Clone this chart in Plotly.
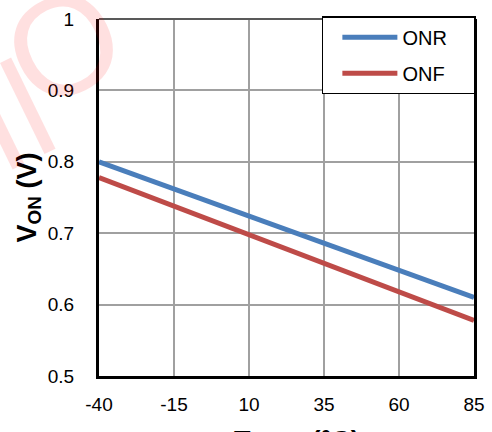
import plotly.graph_objects as go

temps = [-40, -15, 10, 35, 60, 85]
onr = [0.800, 0.762, 0.724, 0.686, 0.648, 0.610]
onf = [0.778, 0.738, 0.698, 0.658, 0.618, 0.578]
x_ticks = [-40, -15, 10, 35, 60, 85]
x_labels = ["-40", "-15", "10", "35", "60", "85"]
y_ticks = [0.5, 0.6, 0.7, 0.8, 0.9, 1.0]
y_labels = ["0.5", "0.6", "0.7", "0.8", "0.9", "1"]
x_title = "Temp (°C)"
y_title = "V<sub>ON</sub> (V)"
pad = "\u00a0" * 4

fig = go.Figure()
fig.add_trace(go.Scatter(x=temps, y=onr, mode="lines", name="ONR" + pad, legendgroup="a",
                         line=dict(color="#4A7EBB", width=5)))
fig.add_trace(go.Scatter(x=temps, y=onf, mode="lines", name="ONF" + pad, legendgroup="b",
                         line=dict(color="#BE4B48", width=5)))

font = "Liberation Sans, Arial, sans-serif"
wm = "rgba(255,0,0,0.12)"

fig.update_layout(
    width=492, height=432,
    margin=dict(l=99, r=18, t=19, b=56),
    paper_bgcolor="white", plot_bgcolor="white",
    font=dict(family=font, size=19, color="black"),
    showlegend=True,
    legend=dict(x=1.005, y=1.008, xanchor="right", yanchor="top",
                bgcolor="white", bordercolor="black", borderwidth=1.5,
                font=dict(size=20), tracegroupgap=7, itemwidth=55, indentation=14),
    xaxis=dict(range=[-40, 85], tickvals=x_ticks, ticktext=x_labels, showgrid=True,
               gridcolor="#A0A0A0", gridwidth=1.5, zeroline=False,
               showline=True, linecolor="black", linewidth=3,
               ticks="", ticklabelstandoff=9, automargin=False),
    yaxis=dict(range=[0.5, 1.0], tickvals=y_ticks, ticktext=y_labels, showgrid=True,
               gridcolor="#A0A0A0", gridwidth=1.5, zeroline=False,
               showline=True, linecolor="black", linewidth=3, mirror=True,
               ticks="", ticklabelstandoff=18, automargin=False,
               title=dict(text="<b>" + y_title + "</b>", font=dict(size=27), standoff=4)),
    shapes=[dict(type="line", xref="paper", yref="paper", x0=0, x1=1, y0=1, y1=1,
                 line=dict(color="#595959", width=2))],
    annotations=[
        dict(text="Il", xref="paper", yref="paper", x=-0.235, y=0.728,
             xanchor="center", yanchor="middle", showarrow=False, textangle=-26,
             font=dict(size=140, color=wm, family=font)),
        dict(text="O", xref="paper", yref="paper", x=-0.096, y=0.927,
             xanchor="center", yanchor="middle", showarrow=False, textangle=-26,
             font=dict(size=140, color=wm, family=font)),
        dict(text="<b>" + x_title + "</b>", xref="paper", yref="paper", x=0.528, y=-0.134,
             xanchor="center", yanchor="top", showarrow=False,
             font=dict(size=27, color="black", family=font)),
    ],
)

fig.write_html("out.html", post_script="document.body.style.margin='0';",
               config={"displayModeBar": False})
